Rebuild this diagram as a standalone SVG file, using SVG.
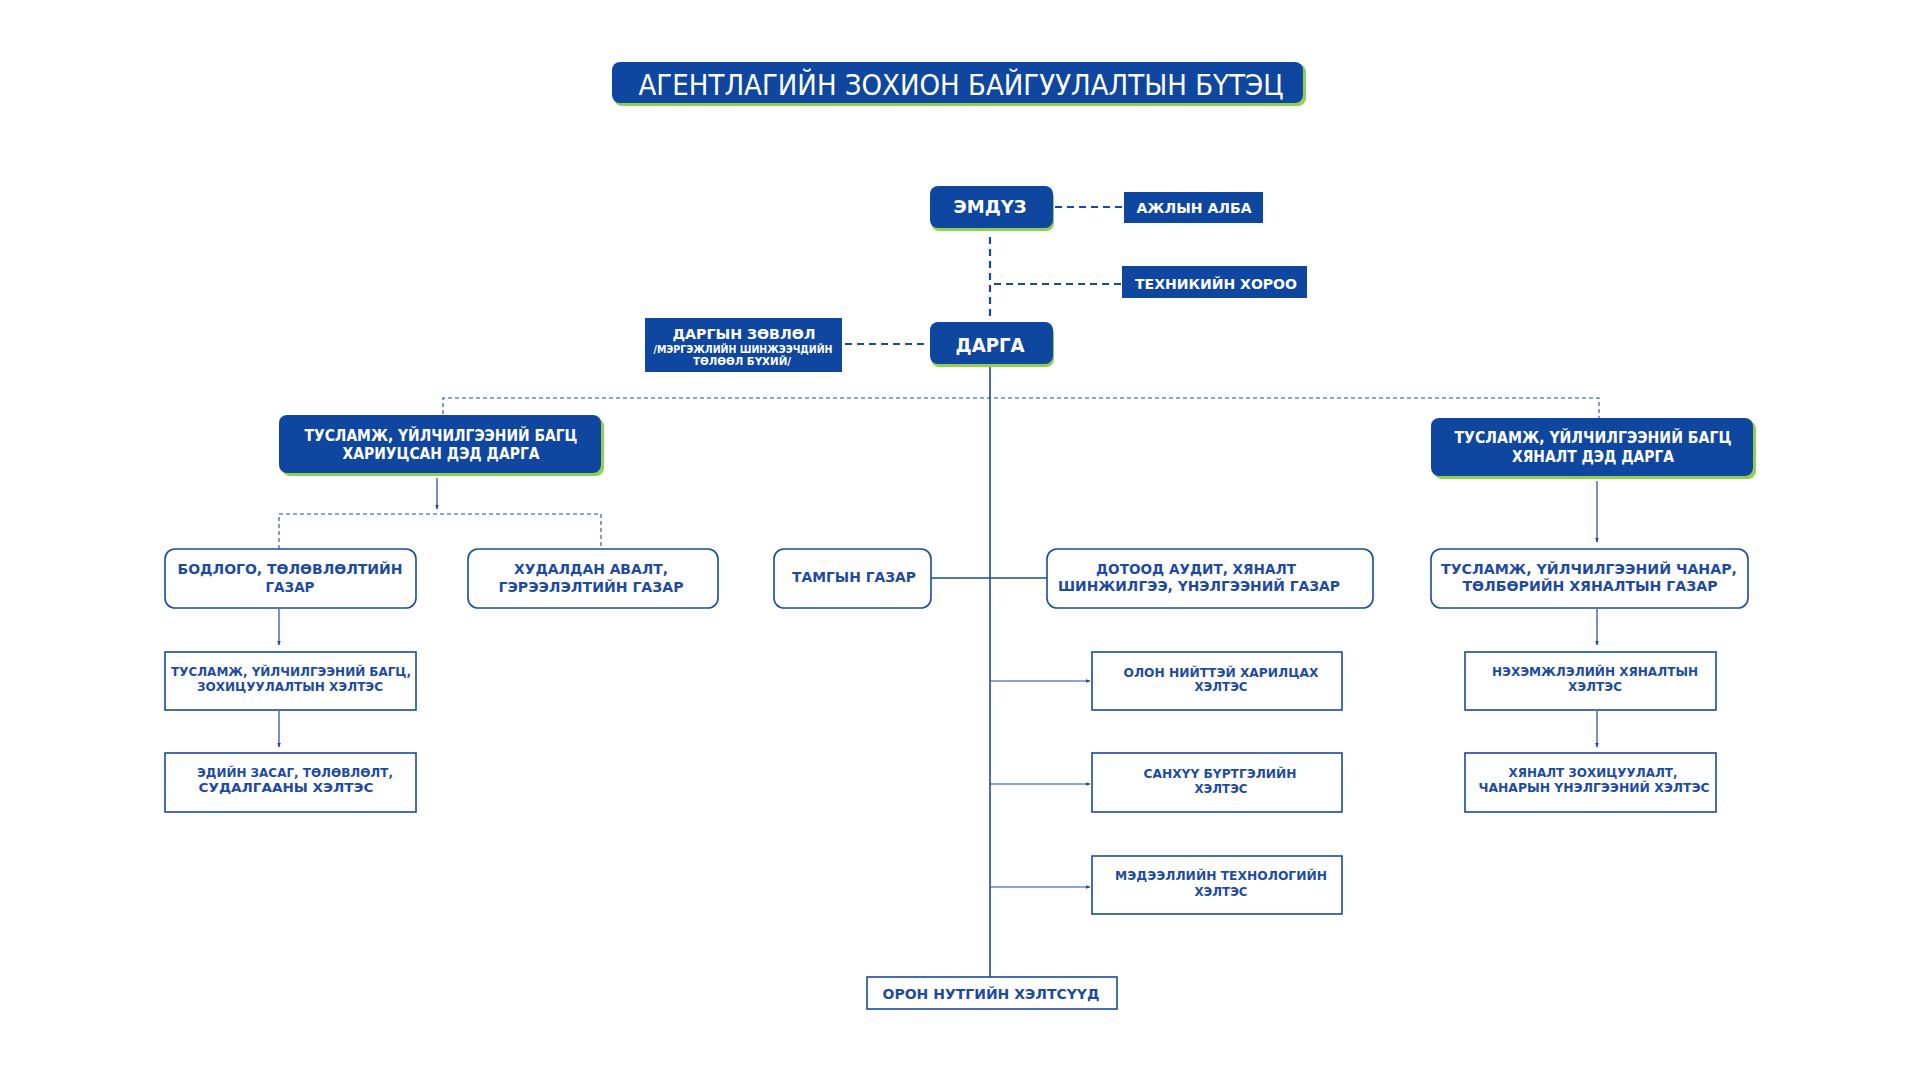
<svg xmlns="http://www.w3.org/2000/svg" width="1920" height="1080" viewBox="0 0 1920 1080">
<defs>
<style>
.dk{fill:#0f47a0}
.gr{fill:#8fd14f}
.wb{fill:#ffffff;stroke:#1a4a9e;stroke-width:1.6}
.tw{fill:#ffffff;font-family:"DejaVu Sans","Liberation Sans",sans-serif;font-weight:bold;text-anchor:middle}
.tt{fill:#ffffff;font-family:"DejaVu Sans","Liberation Sans",sans-serif;text-anchor:middle}
.tb{fill:#1f4b9f;font-family:"DejaVu Sans","Liberation Sans",sans-serif;font-weight:bold;text-anchor:middle}
.dash{stroke:#1a4a9e;stroke-width:2.2;stroke-dasharray:7 5;fill:none}
.thd{stroke:#1a4a9e;stroke-width:1.1;stroke-dasharray:4 3;fill:none}
.sl{stroke:#1a4a9e;stroke-width:1.6;fill:none}
.ar{stroke:#1a4a9e;stroke-width:1.2;fill:none;marker-end:url(#ah)}
</style>
<marker id="ah" viewBox="0 0 10 10" refX="9" refY="5" markerWidth="5" markerHeight="5" orient="auto" markerUnits="userSpaceOnUse">
<path d="M0,1 L10,5 L0,9 z" fill="#1a4a9e"/>
</marker>
</defs>
<rect width="1920" height="1080" fill="#ffffff"/>

<g id="title">
<rect class="gr" x="614" y="64" width="692" height="42" rx="8"/>
<rect class="dk" x="612" y="62" width="691" height="41" rx="8"/>
<text class="tt" x="961" y="95" font-size="29" textLength="645" lengthAdjust="spacingAndGlyphs">АГЕНТЛАГИЙН ЗОХИОН БАЙГУУЛАЛТЫН БҮТЭЦ</text>
</g>

<g id="connectors">
<line class="dash" x1="1055" y1="207" x2="1122" y2="207"/>
<line class="dash" x1="990" y1="237" x2="990" y2="316"/>
<line class="dash" x1="994" y1="284" x2="1122" y2="284"/>
<line class="dash" x1="845" y1="344" x2="928" y2="344"/>
<line class="sl" x1="990" y1="365" x2="990" y2="977"/>
<polyline class="thd" points="443,414 443,398 1599,398 1599,418"/>
<line class="ar" x1="437" y1="478" x2="437" y2="509"/>
<polyline class="thd" points="279,549 279,514 601,514 601,549"/>
<line class="sl" x1="931" y1="578" x2="1047" y2="578"/>
<line class="ar" x1="990" y1="681" x2="1090" y2="681"/>
<line class="ar" x1="990" y1="784" x2="1090" y2="784"/>
<line class="ar" x1="990" y1="887" x2="1090" y2="887"/>
<line class="ar" x1="279" y1="609" x2="279" y2="645"/>
<line class="ar" x1="279" y1="711" x2="279" y2="747"/>
<line class="ar" x1="1597" y1="481" x2="1597" y2="542"/>
<line class="ar" x1="1597" y1="609" x2="1597" y2="645"/>
<line class="ar" x1="1597" y1="711" x2="1597" y2="747"/>
</g>

<g id="emduz">
<rect class="gr" x="931" y="189" width="123" height="42" rx="8"/>
<rect class="dk" x="930" y="186" width="123" height="42" rx="8"/>
<text class="tw" x="990" y="213" font-size="18" textLength="73" lengthAdjust="spacingAndGlyphs">ЭМДҮЗ</text>
</g>

<g id="ajlyn-alba">
<rect class="dk" x="1124" y="192" width="139" height="31"/>
<text class="tw" x="1194" y="213" font-size="14" textLength="115" lengthAdjust="spacingAndGlyphs">АЖЛЫН АЛБА</text>
</g>

<g id="tekhnikiin-khoroo">
<rect class="dk" x="1122" y="266" width="185" height="32"/>
<text class="tw" x="1216" y="289" font-size="14" textLength="162" lengthAdjust="spacingAndGlyphs">ТЕХНИКИЙН ХОРОО</text>
</g>

<g id="darga">
<rect class="gr" x="931" y="325" width="123" height="42" rx="8"/>
<rect class="dk" x="930" y="322" width="123" height="42" rx="8"/>
<text class="tw" x="990" y="352" font-size="19" textLength="69" lengthAdjust="spacingAndGlyphs">ДАРГА</text>
</g>

<g id="dargyn-zovlol">
<rect class="dk" x="645" y="318" width="197" height="54"/>
<text class="tw" x="744" y="339" font-size="14" textLength="143" lengthAdjust="spacingAndGlyphs">ДАРГЫН ЗӨВЛӨЛ</text>
<text class="tw" x="743" y="353" font-size="10" textLength="179" lengthAdjust="spacingAndGlyphs">/МЭРГЭЖЛИЙН ШИНЖЭЭЧДИЙН</text>
<text class="tw" x="742" y="365" font-size="10" textLength="98" lengthAdjust="spacingAndGlyphs">ТӨЛӨӨЛ БҮХИЙ/</text>
</g>

<g id="deputy-left">
<rect class="gr" x="282" y="418" width="322" height="58" rx="8"/>
<rect class="dk" x="279" y="415" width="322" height="58" rx="8"/>
<text class="tw" x="441" y="441" font-size="15" textLength="273" lengthAdjust="spacingAndGlyphs">ТУСЛАМЖ, ҮЙЛЧИЛГЭЭНИЙ БАГЦ</text>
<text class="tw" x="441" y="459" font-size="15" textLength="197" lengthAdjust="spacingAndGlyphs">ХАРИУЦСАН ДЭД ДАРГА</text>
</g>

<g id="deputy-right">
<rect class="gr" x="1434" y="421" width="322" height="58" rx="8"/>
<rect class="dk" x="1431" y="418" width="322" height="58" rx="8"/>
<text class="tw" x="1593" y="443" font-size="15" textLength="277" lengthAdjust="spacingAndGlyphs">ТУСЛАМЖ, ҮЙЛЧИЛГЭЭНИЙ БАГЦ</text>
<text class="tw" x="1593" y="462" font-size="15" textLength="162" lengthAdjust="spacingAndGlyphs">ХЯНАЛТ ДЭД ДАРГА</text>
</g>

<g id="bodlogo">
<rect class="wb" x="165" y="549" width="251" height="59" rx="10"/>
<text class="tb" x="290" y="574" font-size="14" textLength="225" lengthAdjust="spacingAndGlyphs">БОДЛОГО, ТӨЛӨВЛӨЛТИЙН</text>
<text class="tb" x="290" y="592" font-size="14" textLength="49" lengthAdjust="spacingAndGlyphs">ГАЗАР</text>
</g>

<g id="khudaldan-avalt">
<rect class="wb" x="468" y="549" width="250" height="59" rx="10"/>
<text class="tb" x="591" y="574" font-size="14" textLength="154" lengthAdjust="spacingAndGlyphs">ХУДАЛДАН АВАЛТ,</text>
<text class="tb" x="591" y="592" font-size="14" textLength="185" lengthAdjust="spacingAndGlyphs">ГЭРЭЭЛЭЛТИЙН ГАЗАР</text>
</g>

<g id="tamgyn-gazar">
<rect class="wb" x="774" y="549" width="157" height="59" rx="10"/>
<text class="tb" x="854" y="582" font-size="14" textLength="124" lengthAdjust="spacingAndGlyphs">ТАМГЫН ГАЗАР</text>
</g>

<g id="dotood-audit">
<rect class="wb" x="1047" y="549" width="326" height="59" rx="10"/>
<text class="tb" x="1196" y="574" font-size="14" textLength="200" lengthAdjust="spacingAndGlyphs">ДОТООД АУДИТ, ХЯНАЛТ</text>
<text class="tb" x="1199" y="591" font-size="14" textLength="282" lengthAdjust="spacingAndGlyphs">ШИНЖИЛГЭЭ, ҮНЭЛГЭЭНИЙ ГАЗАР</text>
</g>

<g id="chanar-tolbor">
<rect class="wb" x="1431" y="549" width="317" height="59" rx="10"/>
<text class="tb" x="1589" y="574" font-size="14" textLength="296" lengthAdjust="spacingAndGlyphs">ТУСЛАМЖ, ҮЙЛЧИЛГЭЭНИЙ ЧАНАР,</text>
<text class="tb" x="1590" y="591" font-size="14" textLength="255" lengthAdjust="spacingAndGlyphs">ТӨЛБӨРИЙН ХЯНАЛТЫН ГАЗАР</text>
</g>

<g id="zokhitsuulalt">
<rect class="wb" x="165" y="652" width="251" height="58"/>
<text class="tb" x="291" y="676" font-size="12.5" textLength="240" lengthAdjust="spacingAndGlyphs">ТУСЛАМЖ, ҮЙЛЧИЛГЭЭНИЙ БАГЦ,</text>
<text class="tb" x="290" y="691" font-size="12.5" textLength="186" lengthAdjust="spacingAndGlyphs">ЗОХИЦУУЛАЛТЫН ХЭЛТЭС</text>
</g>

<g id="ediin-zasag">
<rect class="wb" x="165" y="753" width="251" height="59"/>
<text class="tb" x="295" y="777" font-size="12.5" textLength="196" lengthAdjust="spacingAndGlyphs">ЭДИЙН ЗАСАГ, ТӨЛӨВЛӨЛТ,</text>
<text class="tb" x="286" y="792" font-size="12.5" textLength="175" lengthAdjust="spacingAndGlyphs">СУДАЛГААНЫ ХЭЛТЭС</text>
</g>

<g id="olon-niit">
<rect class="wb" x="1092" y="652" width="250" height="58"/>
<text class="tb" x="1221" y="677" font-size="12.5" textLength="195" lengthAdjust="spacingAndGlyphs">ОЛОН НИЙТТЭЙ ХАРИЛЦАХ</text>
<text class="tb" x="1221" y="691" font-size="12.5" textLength="53" lengthAdjust="spacingAndGlyphs">ХЭЛТЭС</text>
</g>

<g id="sankhuu">
<rect class="wb" x="1092" y="753" width="250" height="59"/>
<text class="tb" x="1220" y="778" font-size="12.5" textLength="153" lengthAdjust="spacingAndGlyphs">САНХҮҮ БҮРТГЭЛИЙН</text>
<text class="tb" x="1221" y="793" font-size="12.5" textLength="53" lengthAdjust="spacingAndGlyphs">ХЭЛТЭС</text>
</g>

<g id="medeelel">
<rect class="wb" x="1092" y="856" width="250" height="58"/>
<text class="tb" x="1221" y="880" font-size="12.5" textLength="212" lengthAdjust="spacingAndGlyphs">МЭДЭЭЛЛИЙН ТЕХНОЛОГИЙН</text>
<text class="tb" x="1221" y="896" font-size="12.5" textLength="53" lengthAdjust="spacingAndGlyphs">ХЭЛТЭС</text>
</g>

<g id="nekhemjlel">
<rect class="wb" x="1465" y="652" width="251" height="58"/>
<text class="tb" x="1595" y="676" font-size="12.5" textLength="206" lengthAdjust="spacingAndGlyphs">НЭХЭМЖЛЭЛИЙН ХЯНАЛТЫН</text>
<text class="tb" x="1595" y="691" font-size="12.5" textLength="54" lengthAdjust="spacingAndGlyphs">ХЭЛТЭС</text>
</g>

<g id="khyanalt-zokhitsuulalt">
<rect class="wb" x="1465" y="753" width="251" height="59"/>
<text class="tb" x="1593" y="777" font-size="12.5" textLength="169" lengthAdjust="spacingAndGlyphs">ХЯНАЛТ ЗОХИЦУУЛАЛТ,</text>
<text class="tb" x="1594" y="792" font-size="12.5" textLength="231" lengthAdjust="spacingAndGlyphs">ЧАНАРЫН ҮНЭЛГЭЭНИЙ ХЭЛТЭС</text>
</g>

<g id="oron-nutag">
<rect class="wb" x="867" y="977" width="250" height="32"/>
<text class="tb" x="991" y="999" font-size="14" textLength="217" lengthAdjust="spacingAndGlyphs">ОРОН НУТГИЙН ХЭЛТСҮҮД</text>
</g>
</svg>
